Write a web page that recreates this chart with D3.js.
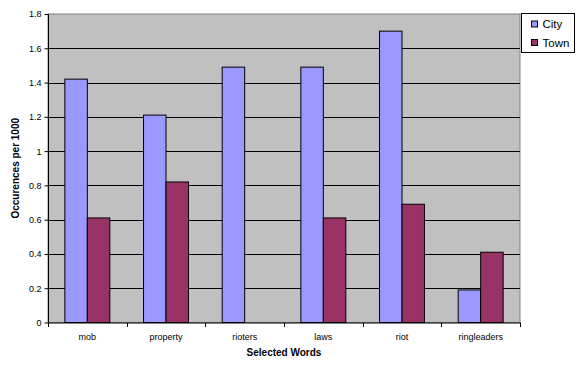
<!DOCTYPE html>
<html>
<head>
<meta charset="utf-8">
<script src="https://cdnjs.cloudflare.com/ajax/libs/d3/7.8.5/d3.min.js"></script>
<style>
    body { margin: 0; background: #fff; }
    text { font-family: Arial, "Liberation Sans", sans-serif; }
</style>
</head>
<body>
<svg id="chart" width="586" height="375"></svg>
<script>
var words = ["mob", "property", "rioters", "laws", "riot", "ringleaders"],
    seriesNames = ["City", "Town"],
    cityValues = [1.42, 1.21, 1.49, 1.49, 1.70, 0.19],
    townValues = [0.61, 0.82, 0, 0.61, 0.69, 0.41],
    yTicks = [0, 0.2, 0.4, 0.6, 0.8, 1, 1.2, 1.4, 1.6, 1.8],
    colors = ["#9999ff", "#993366"];

var svg = d3.select("#chart"),
    plotLeft = 48, plotRight = 520, plotTop = 14, plotBottom = 322.5;

var x = d3.scaleBand().domain(words).range([plotLeft, plotRight]);
var y = d3.scaleLinear().domain([0, 1.8]).range([plotBottom, plotTop]);
// excel style: gap width 150% -> bar = band / 3.5
var barW = x.bandwidth() / 3.5;

// plot area
svg.append("rect")
    .attr("x", plotLeft).attr("y", plotTop)
    .attr("width", plotRight - plotLeft).attr("height", plotBottom - plotTop)
    .attr("fill", "#c0c0c0")
    .attr("stroke", "#808080");

// gridlines
svg.selectAll("line.grid")
    .data(yTicks.slice(1, -1))
    .enter().append("line")
    .attr("class", "grid")
    .attr("x1", plotLeft).attr("x2", plotRight)
    .attr("y1", function (d) { return Math.round(y(d)) + 0.5; })
    .attr("y2", function (d) { return Math.round(y(d)) + 0.5; })
    .attr("stroke", "#000");

// bars
var data = [cityValues, townValues];
data.forEach(function (vals, s) {
    svg.selectAll("rect.s" + s)
        .data(vals)
        .enter().append("rect")
        .attr("class", "s" + s)
        .attr("x", function (d, i) { return x(words[i]) + barW * 0.75 + s * barW; })
        .attr("y", function (d) { return y(d); })
        .attr("width", barW)
        .attr("height", function (d) { return plotBottom - y(d); })
        .attr("fill", colors[s])
        .attr("stroke", function (d) { return d > 0 ? "#000" : "none"; })
        .attr("stroke-width", 1);
});

// y axis
var yAxis = d3.axisLeft(y).tickValues(yTicks).tickSize(4).tickPadding(3)
    .tickFormat(function (d) { return String(+d.toFixed(1)); });
var yg = svg.append("g").attr("transform", "translate(" + (plotLeft + 0.5) + ",0)").call(yAxis);
yg.select(".domain").attr("d", "M0," + plotTop + "V" + plotBottom);
yg.selectAll("text").attr("font-size", 9).attr("font-family", "Arial, 'Liberation Sans', sans-serif");

// x axis
var xg = svg.append("g").attr("transform", "translate(0," + (plotBottom + 0.5) + ")");
xg.append("line").attr("x1", plotLeft).attr("x2", plotRight + 1).attr("stroke", "#000");
xg.selectAll("line.tick")
    .data(words.concat(["end"]))
    .enter().append("line")
    .attr("class", "tick")
    .attr("x1", function (d, i) { return Math.round(plotLeft + i * x.step()) + 0.5; })
    .attr("x2", function (d, i) { return Math.round(plotLeft + i * x.step()) + 0.5; })
    .attr("y1", 0).attr("y2", 4)
    .attr("stroke", "#000");
xg.selectAll("text")
    .data(words)
    .enter().append("text")
    .attr("x", function (d) { return x(d) + x.bandwidth() / 2; })
    .attr("y", 17)
    .attr("text-anchor", "middle")
    .attr("font-size", 9)
    .text(function (d) { return d; });

// titles
svg.append("text")
    .attr("x", (plotLeft + plotRight) / 2).attr("y", 356)
    .attr("text-anchor", "middle")
    .attr("font-size", 10).attr("font-weight", "bold")
    .text("Selected Words");
svg.append("text")
    .attr("transform", "translate(19," + ((plotTop + plotBottom) / 2) + ") rotate(-90)")
    .attr("text-anchor", "middle")
    .attr("font-size", 10).attr("font-weight", "bold")
    .text("Occurences per 1000");

// legend
var lg = svg.append("g").attr("transform", "translate(521.5,13.5)");
lg.append("rect").attr("width", 53).attr("height", 39)
    .attr("fill", "#fff").attr("stroke", "#000");
seriesNames.forEach(function (n, i) {
    lg.append("rect")
        .attr("x", 10).attr("y", 7.5 + i * 18.5)
        .attr("width", 6).attr("height", 6)
        .attr("fill", colors[i]).attr("stroke", "#000");
    lg.append("text")
        .attr("x", 21).attr("y", 14.5 + i * 18.5)
        .attr("font-size", 11.5)
        .text(n);
});
</script>
</body>
</html>
